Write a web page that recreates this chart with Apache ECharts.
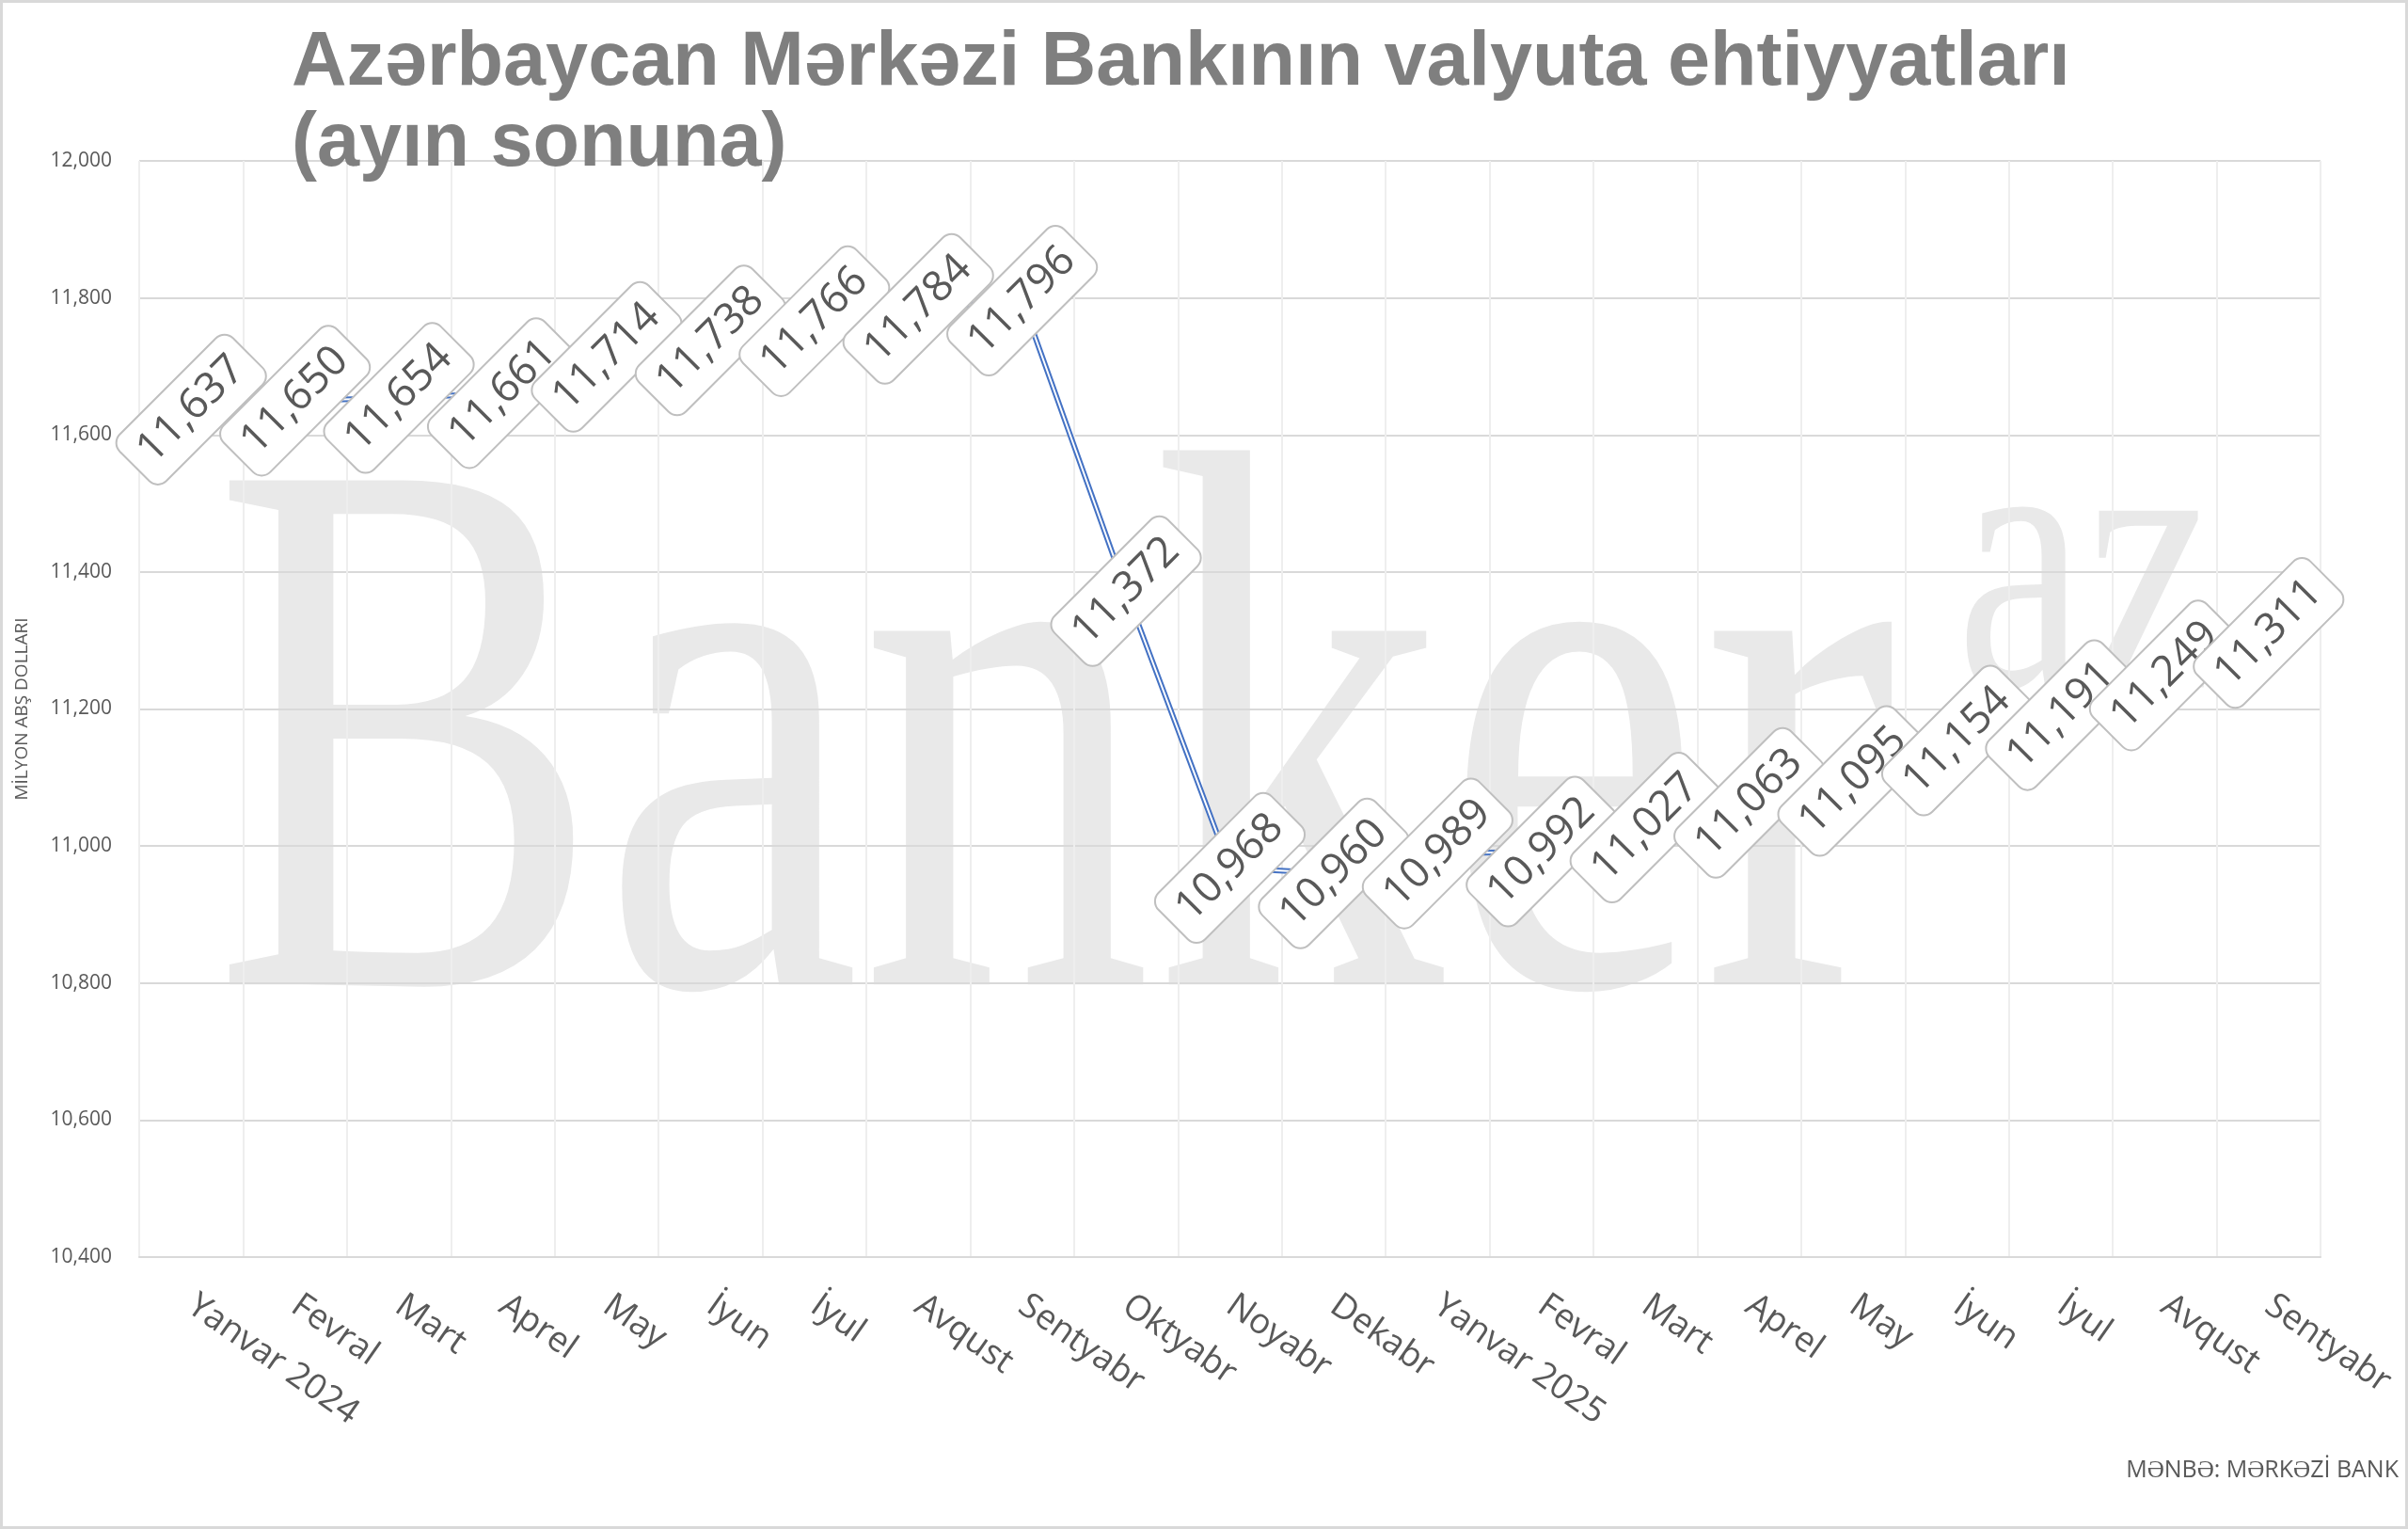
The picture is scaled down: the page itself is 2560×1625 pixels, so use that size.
<!DOCTYPE html>
<html>
<head>
<meta charset="utf-8">
<script src="https://cdn.jsdelivr.net/npm/echarts@6/dist/echarts.min.js"></script>
<style>
html,body{margin:0;padding:0;background:#fff;}
#chart{width:2560px;height:1625px;}
</style>
</head>
<body>
<div id="chart"></div>
<script>
const categories = ["Yanvar 2024","Fevral","Mart","Aprel","May","İyun","İyul","Avqust","Sentyabr","Oktyabr","Noyabr","Dekabr","Yanvar 2025","Fevral","Mart","Aprel","May","İyun","İyul","Avqust","Sentyabr"];
const reserves = [11637,11650,11654,11661,11714,11738,11766,11784,11796,11372,10968,10960,10989,10992,11027,11063,11095,11154,11191,11249,11311];
const yMin = 10400, yMax = 12000, yStep = 200;
const titleText = "Azərbaycan Mərkəzi Bankının valyuta ehtiyyatları\n(ayın sonuna)";
const yAxisName = "MİLYON ABŞ DOLLARI";
const sourceText = "MƏNBƏ: MƏRKƏZİ BANK";

const chart = echarts.init(document.getElementById('chart'), null, {renderer:'canvas'});
const fmt = v => Number(v).toLocaleString('en-US');

chart.setOption({
  backgroundColor: '#ffffff',
  animation: false,
  title: {
    text: titleText,
    left: 305, top: 20,
    textStyle: {fontFamily: 'Liberation Sans', fontWeight: 'bold', fontSize: 81, lineHeight: 86, color: '#7F7F7F'}
  },
  grid: {left: 148, right: 93, top: 171, bottom: 289, outerBoundsMode: 'none', containLabel: false},
  xAxis: {
    type: 'category', data: categories, boundaryGap: true,
    axisLine: {show: true, lineStyle: {color: '#D9D9D9', width: 2}},
    axisTick: {show: false},
    splitLine: {show: true, interval: 0, lineStyle: {color: '#EEEEEE', width: 2}},
    axisLabel: {interval: 0, rotate: -35, margin: 48, fontSize: 37, color: '#595959', fontFamily: 'Open Sans'}
  },
  yAxis: {
    type: 'value', min: yMin, max: yMax, interval: yStep,
    name: yAxisName, nameLocation: 'middle', nameGap: 115, nameRotate: 90,
    nameTextStyle: {fontSize: 19, color: '#595959', fontFamily: 'Open Sans'},
    axisLine: {show: false}, axisTick: {show: false},
    splitLine: {show: true, lineStyle: {color: '#D9D9D9', width: 2}},
    axisLabel: {margin: 29, fontSize: 21, color: '#595959', fontFamily: 'Open Sans', formatter: v => fmt(v)}
  },
  graphic: [
    {type: 'rect', z: -20, shape: {x: 1.5, y: 1.5, width: 2557, height: 1622}, style: {fill: 'none', stroke: '#D9D9D9', lineWidth: 3}},
    {type: 'text', z: -10, x: 226, y: 1061, scaleY: 1.32, style: {text: 'Banker', x: 0, y: -174, font: '620px "Liberation Serif"', fill: '#E9E9E9', verticalAlign: 'middle', align: 'left'}},
    {type: 'text', z: -10, x: 2080, y: 738, scaleY: 1.32, style: {text: 'az', x: 0, y: -87, font: '310px "Liberation Serif"', fill: '#E9E9E9', verticalAlign: 'middle', align: 'left'}},
    {type: 'text', right: 10, top: 1550, style: {text: sourceText, font: '25px "Open Sans"', fill: '#595959'}}
  ],
  series: [
    {type: 'line', data: reserves, symbol: 'none', lineStyle: {color: '#4472C4', width: 6}, z: 2, silent: true},
    {type: 'line', data: reserves, symbol: 'circle', symbolSize: 1, itemStyle: {color: '#ffffff'},
     lineStyle: {color: '#ffffff', width: 2}, z: 3,
     label: {show: true, position: 'inside', rotate: 45, align: 'center', verticalAlign: 'middle',
       formatter: p => fmt(p.value), fontFamily: 'Open Sans', fontSize: 45, lineHeight: 48, color: '#595959',
       backgroundColor: '#ffffff', borderColor: '#BFBFBF', borderWidth: 2, borderRadius: 12, padding: [10, 14]},
     labelLayout: {hideOverlap: false}}
  ]
});
</script>
</body>
</html>
